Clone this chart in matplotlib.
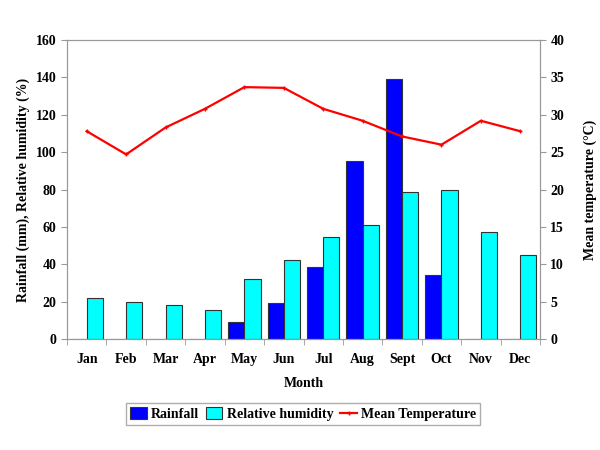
import matplotlib.pyplot as plt
import numpy as np

months = ["Jan", "Feb", "Mar", "Apr", "May", "Jun", "Jul", "Aug", "Sept", "Oct", "Nov", "Dec"]
rainfall = [0, 0, 0, 0, 9, 19.5, 38.5, 95, 139, 34.5, 0, 0]
humidity = [22, 20, 18, 15.5, 32, 42.5, 54.5, 61, 78.5, 79.5, 57, 45]
temperature = [27.8, 24.7, 28.3, 30.8, 33.7, 33.6, 30.8, 29.2, 27.1, 26.0, 29.2, 27.8]

plt.rcParams["font.family"] = ["Liberation Serif", "DejaVu Serif"]
plt.rcParams["font.weight"] = "bold"

fig = plt.figure(figsize=(6, 4.5), dpi=100)
ax = fig.add_axes([0.1117, 0.2467, 0.7883, 0.6643])
ax2 = ax.twinx()

x = np.arange(len(months))
w = 0.41
ax.bar(x - w / 2, rainfall, w, color="#0000ff", edgecolor="#333333", linewidth=0.8, label="Rainfall")
ax.bar(x + w / 2, humidity, w, color="#00ffff", edgecolor="#333333", linewidth=0.8, label="Relative humidity")
ax2.plot(x, temperature, color="#ff0000", linewidth=1.6, marker="+", markersize=3, label="Mean Temperature")

ax.set_xlim(-0.5, len(months) - 0.5)
ax.set_ylim(0, 160)
ax.set_yticks(range(0, 161, 20))
ax2.set_ylim(0, 40)
ax2.set_yticks(range(0, 41, 5))

ax.set_xticks(x)
ax.set_xticklabels(months)
ax.set_xticks(np.arange(-0.5, len(months)), minor=True)
ax.tick_params(axis="x", which="major", length=0, pad=10, labelsize=10)
ax.tick_params(axis="x", which="minor", length=4, color="#999999")
ax.tick_params(axis="y", length=4, color="#999999", labelsize=10)
ax2.tick_params(axis="y", length=4, color="#999999", labelsize=10)

for a in (ax, ax2):
    for s in a.spines.values():
        s.set_color("#999999")

ax.set_xlabel("Month", fontsize=10, fontweight="bold", labelpad=8)
ax.set_ylabel("Rainfall (mm), Relative humidity (%)", fontsize=10, fontweight="bold")
ax2.set_ylabel("Mean temperature (\u00b0C)", fontsize=10, fontweight="bold", labelpad=14)

h1, l1 = ax.get_legend_handles_labels()
h2, l2 = ax2.get_legend_handles_labels()
fig.legend(h1 + h2, l1 + l2, loc="center", bbox_to_anchor=(0.505, 0.08), ncol=3,
           fontsize=10, frameon=True, fancybox=False, edgecolor="#999999",
           handlelength=1.2, handleheight=0.9, handletextpad=0.3, columnspacing=0.5, borderpad=0.3)

fig.savefig("out.png", dpi=100)
